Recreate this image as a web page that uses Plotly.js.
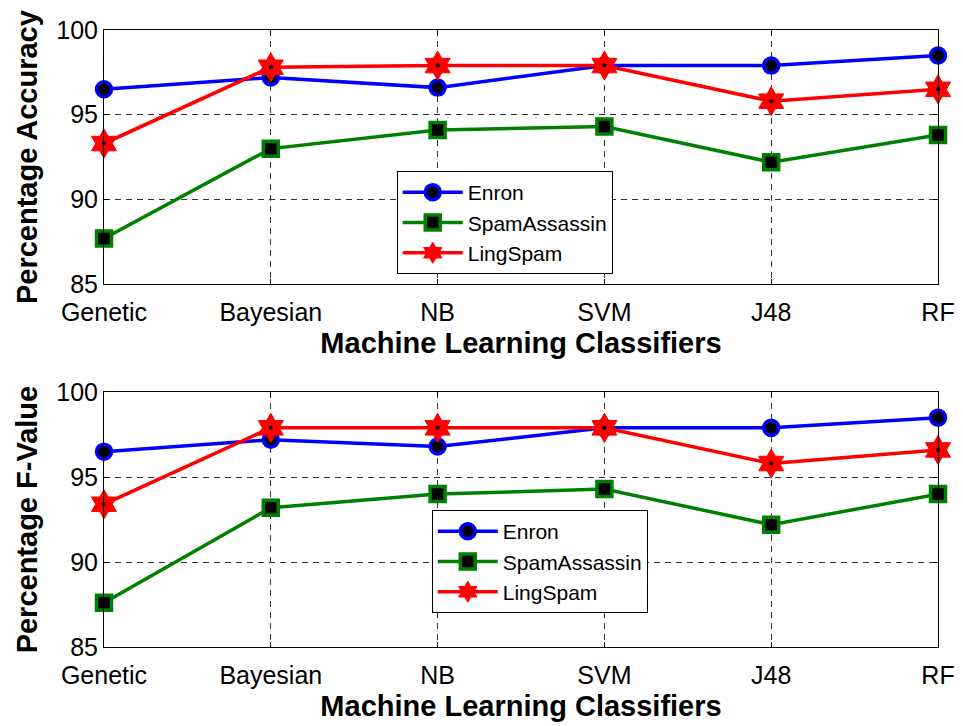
<!DOCTYPE html>
<html>
<head>
<meta charset="utf-8">
<script src="https://cdn.plot.ly/plotly-3.0.1.min.js"></script>
<style>html,body{margin:0;padding:0;background:#fff;}#chart{width:963px;height:726px;}</style>
</head>
<body>
<div id="chart"></div>
<script>
const categories = ["Genetic", "Bayesian", "NB", "SVM", "J48", "RF"];
const seriesNames = ["Enron", "SpamAssassin", "LingSpam"];

// Top panel: Percentage Accuracy
const accEnron        = [96.5, 97.2, 96.6, 97.9, 97.9, 98.5];
const accSpamAssassin = [87.7, 93.0, 94.1, 94.3, 92.2, 93.8];
const accLingSpam     = [93.3, 97.8, 97.9, 97.9, 95.8, 96.5];

// Bottom panel: Percentage F-Value
const fvEnron        = [96.5, 97.2, 96.8, 97.9, 97.9, 98.5];
const fvSpamAssassin = [87.6, 93.2, 94.0, 94.3, 92.2, 94.0];
const fvLingSpam     = [93.4, 97.9, 97.9, 97.9, 95.8, 96.6];

const yTicks = [85, 90, 95, 100];

const FONT = "Liberation Sans, Arial, sans-serif";
const styles = [
  {color: "#0000FF", symbol: "circle", size: 15, fill: "#000000", lw: 3.5},
  {color: "#008000", symbol: "square", size: 15, fill: "#000000", lw: 3.5},
  {color: "#FF0000", symbol: "hexagram", size: 22, fill: "#FF0000", lw: 1}
];

function makeTraces(data, xa, ya, legendId) {
  const out = [];
  data.forEach((vals, i) => {
    const s = styles[i];
    out.push({
      type: "scatter", mode: "lines+markers",
      x: categories, y: vals, name: seriesNames[i],
      xaxis: xa, yaxis: ya, legend: legendId,
      cliponaxis: false,
      line: {color: s.color, width: 3.5},
      marker: {symbol: s.symbol, size: s.size, color: s.fill,
               line: {color: s.color, width: s.lw}}
    });
  });
  // small black centre dot on the LingSpam stars
  out.push({
    type: "scatter", mode: "markers",
    x: categories, y: data[2], showlegend: false,
    xaxis: xa, yaxis: ya, cliponaxis: false,
    marker: {symbol: "circle", size: 4, color: "#000000"}
  });
  return out;
}

const traces = [].concat(
  makeTraces([accEnron, accSpamAssassin, accLingSpam], "x", "y", "legend"),
  makeTraces([fvEnron, fvSpamAssassin, fvLingSpam], "x2", "y2", "legend2")
);

function xAxis(anchor) {
  return {
    anchor: anchor, domain: [0, 1], type: "category",
    range: [0, 5],
    showline: true, linecolor: "#000", linewidth: 1, mirror: "ticks",
    ticks: "inside", ticklen: 5, tickcolor: "#000",
    showgrid: true, gridcolor: "#333", gridwidth: 1, griddash: "6px,5px",
    zeroline: false, ticklabelstandoff: 6,
    tickfont: {family: FONT, size: 25, color: "#000"},
    title: {text: "Machine Learning Classifiers", standoff: 7,
            font: {family: FONT, size: 29, color: "#000", weight: "bold"}}
  };
}
function yAxis(anchor, domain, title) {
  return {
    anchor: anchor, domain: domain, range: [85, 100],
    tickvals: yTicks, ticktext: yTicks.map(String),
    showline: true, linecolor: "#000", linewidth: 1, mirror: "ticks",
    ticks: "inside", ticklen: 5, tickcolor: "#000",
    showgrid: true, gridcolor: "#333", gridwidth: 1, griddash: "6px,5px",
    zeroline: false,
    tickfont: {family: FONT, size: 25, color: "#000"},
    title: {text: title, standoff: 10,
            font: {family: FONT, size: 29, color: "#000", weight: "bold"}}
  };
}

const legendCommon = {
  bgcolor: "#fff", bordercolor: "#000", borderwidth: 1,
  font: {family: FONT, size: 21, color: "#000"},
  xanchor: "left", yanchor: "top", itemwidth: 60
};

const layout = {
  width: 963, height: 726,
  margin: {l: 104, r: 25, t: 30, b: 79},
  paper_bgcolor: "#fff", plot_bgcolor: "#fff",
  font: {family: FONT},
  hovermode: false,
  xaxis: xAxis("y"),
  yaxis: yAxis("x", [0.588, 1], "Percentage Accuracy"),
  xaxis2: xAxis("y2"),
  yaxis2: yAxis("x2", [0, 0.413], "Percentage F-Value"),
  legend: Object.assign({x: 0.351, y: 0.7715}, legendCommon),
  legend2: Object.assign({x: 0.393, y: 0.222}, legendCommon)
};

Plotly.newPlot("chart", traces, layout, {displayModeBar: false, staticPlot: true});
</script>
</body>
</html>
